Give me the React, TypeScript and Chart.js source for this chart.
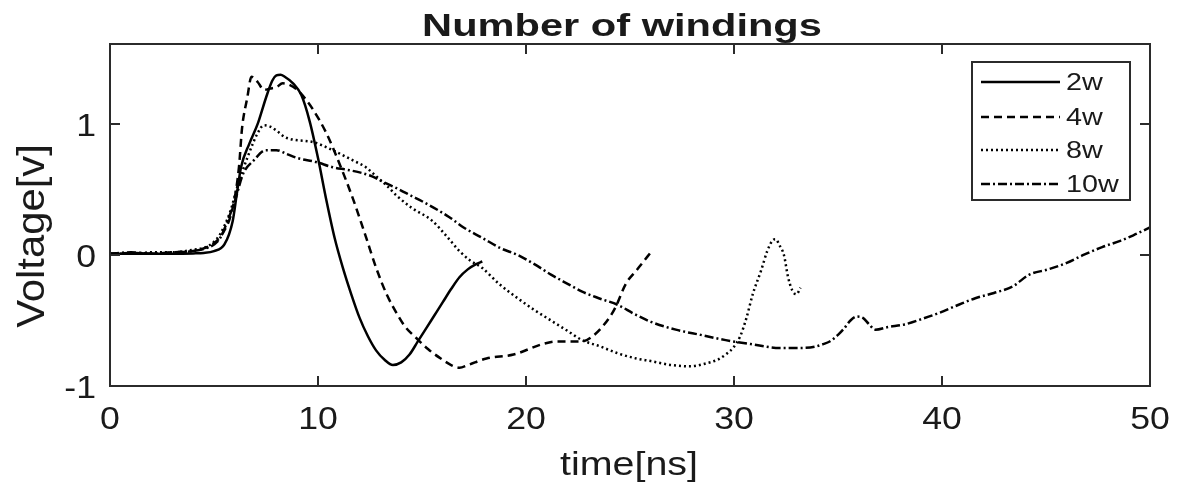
import React, { useEffect, useRef } from "react";
import { Chart, registerables } from "chart.js";

Chart.register(...registerables);

const titleText = "Number of windings";
const xTitle = "time[ns]";
const yTitle = "Voltage[v]";
const xTicks = [0, 10, 20, 30, 40, 50];
const yTicks = [-1, 0, 1];
const seriesNames = ["2w", "4w", "8w", "10w"];

const t2w = [0, 1, 2, 3, 4, 4.5, 5.0, 5.5, 5.9, 6.1, 6.3, 6.7, 7.1, 7.5, 7.8, 8.0, 8.2, 8.4, 8.8, 9.2, 9.6, 10.0, 10.4, 10.8, 11.2, 11.6, 12.0, 12.4, 12.8, 13.2, 13.6, 14.0, 14.4, 14.8, 15.2, 15.6, 16.0, 16.4, 16.8, 17.2, 17.6, 17.9];
const v2w = [0.01, 0.01, 0.01, 0.01, 0.012, 0.015, 0.03, 0.08, 0.26, 0.47, 0.67, 0.85, 1.0, 1.2, 1.33, 1.37, 1.375, 1.36, 1.31, 1.22, 1.02, 0.74, 0.42, 0.13, -0.1, -0.3, -0.48, -0.62, -0.73, -0.8, -0.84, -0.82, -0.76, -0.66, -0.56, -0.46, -0.36, -0.26, -0.17, -0.11, -0.07, -0.05];

const t4w = [0, 1, 2, 3, 4, 4.5, 4.8, 5.4, 5.9, 6.2, 6.35, 6.6, 6.8, 7.1, 7.4, 7.7, 8.0, 8.3, 8.6, 9.0, 9.4, 9.8, 10.4, 11.1, 11.7, 12.3, 12.8, 13.3, 13.8, 14.2, 14.7, 15.3, 15.9, 16.4, 16.8, 17.2, 18.1, 19.4, 20.8, 21.5, 22.0, 22.7, 23.2, 23.6, 24.0, 24.3, 24.8, 25.3, 25.7, 26.0];
const v4w = [0.01, 0.015, 0.01, 0.02, 0.03, 0.05, 0.07, 0.16, 0.36, 0.67, 0.97, 1.2, 1.36, 1.32, 1.26, 1.27, 1.28, 1.31, 1.3, 1.26, 1.19, 1.1, 0.93, 0.67, 0.42, 0.14, -0.1, -0.3, -0.45, -0.55, -0.63, -0.72, -0.79, -0.84, -0.86, -0.84, -0.79, -0.76, -0.68, -0.66, -0.66, -0.66, -0.62, -0.56, -0.48, -0.4, -0.22, -0.12, -0.04, 0.02];

const t8w = [0, 1, 2, 3, 4, 4.6, 5.0, 5.3, 5.8, 6.1, 6.6, 7.1, 7.4, 7.7, 8.0, 8.4, 8.8, 9.4, 9.8, 10.7, 11.7, 12.3, 12.8, 13.3, 13.8, 14.5, 15.5, 16.2, 16.8, 17.3, 17.9, 18.7, 19.6, 20.4, 21.2, 22.0, 22.7, 23.6, 24.4, 25.3, 26.0, 27.0, 27.9, 28.6, 29.2, 29.6, 30.0, 30.3, 30.6, 30.9, 31.3, 31.6, 31.85, 32.0, 32.2, 32.4, 32.6, 32.8, 33.0, 33.2];
const v8w = [0.01, 0.01, 0.02, 0.02, 0.04, 0.06, 0.1, 0.16, 0.34, 0.51, 0.74, 0.93, 0.99, 0.98, 0.95, 0.9, 0.88, 0.87, 0.86, 0.8, 0.72, 0.67, 0.6, 0.53, 0.45, 0.36, 0.26, 0.14, 0.03, -0.04, -0.1, -0.22, -0.33, -0.42, -0.5, -0.58, -0.65, -0.7, -0.75, -0.79, -0.81, -0.84, -0.85, -0.83, -0.8, -0.76, -0.7, -0.62, -0.48, -0.3, -0.12, 0.03, 0.11, 0.12, 0.07, 0.0, -0.17, -0.27, -0.3, -0.25];

const t10w = [0, 1, 2, 3, 4, 4.6, 5.0, 5.3, 5.7, 6.0, 6.4, 6.9, 7.5, 8.0, 8.5, 9.0, 9.9, 10.7, 11.4, 12.0, 12.6, 13.1, 13.9, 14.5, 15.0, 16.3, 17.0, 17.9, 18.8, 19.6, 20.4, 21.2, 22.0, 22.7, 23.5, 24.4, 25.2, 26.0, 27.2, 28.4, 29.6, 30.8, 32.2, 33.2, 33.9, 34.3, 34.6, 35.0, 35.3, 35.6, 35.9, 36.2, 36.5, 36.8, 37.4, 38.2, 39.0, 39.9, 40.8, 41.6, 42.5, 43.4, 44.2, 45.1, 46.0, 46.8, 47.7, 48.6, 49.2, 49.6, 50];
const v10w = [0.01, 0.02, 0.01, 0.02, 0.03, 0.05, 0.08, 0.13, 0.28, 0.41, 0.62, 0.72, 0.8, 0.8, 0.77, 0.74, 0.71, 0.67, 0.65, 0.63, 0.6, 0.56, 0.5, 0.45, 0.41, 0.29, 0.21, 0.13, 0.05, 0.0, -0.07, -0.15, -0.22, -0.28, -0.33, -0.38, -0.45, -0.51, -0.57, -0.61, -0.65, -0.68, -0.71, -0.71, -0.7, -0.68, -0.66, -0.61, -0.56, -0.5, -0.47, -0.48, -0.53, -0.57, -0.55, -0.53, -0.49, -0.44, -0.38, -0.33, -0.29, -0.24, -0.15, -0.11, -0.06, 0.0, 0.06, 0.11, 0.15, 0.18, 0.21];

const dashes: number[][] = [[], [8, 5], [2, 3], [9, 3, 2, 3]];

const FONT = '"Liberation Sans", Arial, Helvetica, sans-serif';
const TEXT_COLOR = "#1a1a1a";
const AXIS_COLOR = "#2b2b2b";

function toPoints(t: number[], v: number[]) {
  return t.map((x, i) => ({ x, y: v[i] }));
}

function stretchedText(
  ctx: CanvasRenderingContext2D,
  text: string,
  x: number,
  y: number,
  font: string,
  sx: number,
  align: CanvasTextAlign
) {
  ctx.save();
  ctx.translate(x, y);
  ctx.scale(sx, 1);
  ctx.font = font;
  ctx.textAlign = align;
  ctx.textBaseline = "alphabetic";
  ctx.fillStyle = TEXT_COLOR;
  ctx.fillText(text, 0, 0);
  ctx.restore();
}

const matlabPlugin = {
  id: "matlabLook",
  afterDraw(chart: any) {
    const ctx: CanvasRenderingContext2D = chart.ctx;
    const area = chart.chartArea;
    const xs = chart.scales.x;
    const ys = chart.scales.y;

    // frame
    ctx.save();
    ctx.strokeStyle = AXIS_COLOR;
    ctx.lineWidth = 2;
    ctx.setLineDash([]);
    ctx.strokeRect(area.left, area.top, area.right - area.left, area.bottom - area.top);
    // inward ticks
    const tl = 10;
    ctx.beginPath();
    xTicks.forEach((v) => {
      const px = xs.getPixelForValue(v);
      ctx.moveTo(px, area.bottom);
      ctx.lineTo(px, area.bottom - tl);
      ctx.moveTo(px, area.top);
      ctx.lineTo(px, area.top + tl);
    });
    yTicks.forEach((v) => {
      const py = ys.getPixelForValue(v);
      ctx.moveTo(area.left, py);
      ctx.lineTo(area.left + tl, py);
      ctx.moveTo(area.right, py);
      ctx.lineTo(area.right - tl, py);
    });
    ctx.stroke();
    ctx.restore();

    // tick labels
    const tickFont = `31px ${FONT}`;
    xTicks.forEach((v) => {
      stretchedText(ctx, String(v), xs.getPixelForValue(v), 429, tickFont, 1.15, "center");
    });
    yTicks.forEach((v) => {
      stretchedText(ctx, String(v), 96, ys.getPixelForValue(v) + 12, tickFont, 1.15, "right");
    });

    // title
    stretchedText(ctx, titleText, 622, 36, `bold 32px ${FONT}`, 1.3, "center");
    // x title
    stretchedText(ctx, xTitle, 629, 475, `34px ${FONT}`, 1.16, "center");
    // y title
    ctx.save();
    ctx.translate(44, 236);
    ctx.rotate(-Math.PI / 2);
    ctx.scale(1.1, 1);
    ctx.font = `38px ${FONT}`;
    ctx.textAlign = "center";
    ctx.textBaseline = "alphabetic";
    ctx.fillStyle = TEXT_COLOR;
    ctx.fillText(yTitle, 0, 0);
    ctx.restore();

    // legend
    const lx = 972, ly = 62, lw = 158, lh = 138;
    ctx.save();
    ctx.fillStyle = "#ffffff";
    ctx.fillRect(lx, ly, lw, lh);
    ctx.strokeStyle = AXIS_COLOR;
    ctx.lineWidth = 2;
    ctx.strokeRect(lx, ly, lw, lh);
    const rows = [82, 117, 150, 184];
    chart.data.datasets.forEach((ds: any, i: number) => {
      const y = rows[i];
      ctx.beginPath();
      ctx.strokeStyle = "#000";
      ctx.lineWidth = ds.borderWidth;
      ctx.setLineDash(ds.borderDash || []);
      ctx.moveTo(981, y);
      ctx.lineTo(1060, y);
      ctx.stroke();
      ctx.setLineDash([]);
      stretchedText(ctx, ds.label, 1066, y + 8, `23px ${FONT}`, 1.25, "left");
    });
    ctx.restore();
  },
};

export default function App() {
  const ref = useRef<HTMLCanvasElement>(null);
  useEffect(() => {
    if (!ref.current) return;
    const series = [
      toPoints(t2w, v2w),
      toPoints(t4w, v4w),
      toPoints(t8w, v8w),
      toPoints(t10w, v10w),
    ];
    const chart = new Chart(ref.current, {
      type: "line",
      data: {
        datasets: series.map((pts, i) => ({
          label: seriesNames[i],
          data: pts,
          borderColor: "#000",
          borderWidth: 2.5,
          borderDash: dashes[i],
          pointRadius: 0,
          fill: false,
          cubicInterpolationMode: "monotone" as const,
        })),
      },
      options: {
        animation: false,
        responsive: false,
        layout: { padding: { left: 110, right: 27, top: 44, bottom: 96 } },
        plugins: {
          legend: { display: false },
          title: { display: false },
          tooltip: { enabled: false },
        },
        scales: {
          x: { type: "linear", min: 0, max: 50, display: false },
          y: { type: "linear", min: -1, max: 1.61, display: false },
        },
      },
      plugins: [matlabPlugin],
    });
    return () => chart.destroy();
  }, []);
  return (
    <div style={{ position: "fixed", left: 0, top: 0, width: 1177, height: 482, background: "#fff" }}>
      <canvas ref={ref} width={1177} height={482} style={{ display: "block" }} />
    </div>
  );
}
